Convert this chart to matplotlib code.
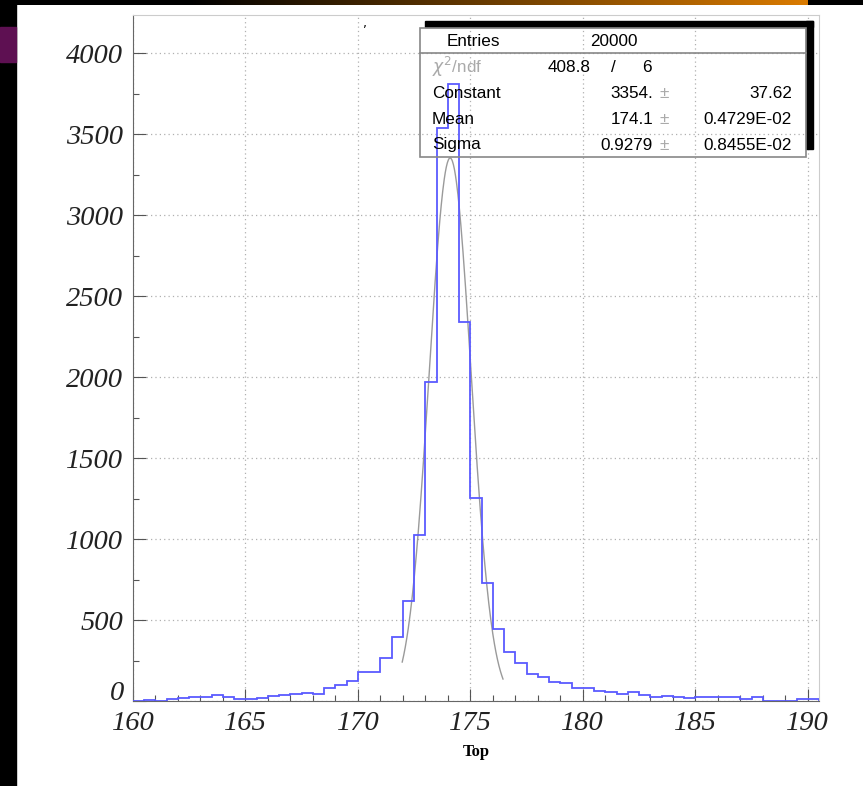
import numpy as np
import matplotlib
matplotlib.use("Agg")
import matplotlib.pyplot as plt
from matplotlib.patches import Rectangle
from matplotlib.lines import Line2D
from matplotlib.ticker import MultipleLocator, FuncFormatter

# histogram of "Top", 61 bins of 0.5 from 160
bin_start = 160.0
bin_width = 0.5
counts = [
    3, 4, 3, 15, 17, 26, 27, 35, 25, 15,
    14, 18, 28, 40, 42, 52, 42, 82, 101, 123,
    178, 178, 268, 393, 617, 1027, 1969, 3541, 3811, 2343,
    1254, 731, 443, 305, 233, 165, 146, 117, 109, 78,
    78, 64, 56, 45, 56, 39, 27, 31, 27, 21,
    27, 27, 25, 25, 14, 27, 2, 2, 2, 14,
    14,
]

# gaussian fit results (stat box)
entries = 20000
chi2, ndf = 408.8, 6
fit_names = ["Constant", "Mean", "Sigma"]
fit_values = ["3354.", "174.1", "0.9279"]
fit_errors = ["37.62", "0.4729E-02", "0.8455E-02"]
fit_const, fit_mean, fit_sigma = 3354.0, 174.1, 0.9279
fit_range = (171.97, 176.45)

W, H = 863, 786
def fx(x):
    return x / W
def fy(y):
    return 1 - y / H

fig = plt.figure(figsize=(W / 100, H / 100), dpi=100)
fig.patch.set_facecolor("white")

# slide background pieces
fig.add_artist(Rectangle((0, 0), fx(16), 1, transform=fig.transFigure, color="black", zorder=0))
fig.add_artist(Rectangle((0, fy(62)), fx(16), fy(27) - fy(62), transform=fig.transFigure,
                         color="#5e1052", zorder=1))
strip = fig.add_axes([0, fy(5), 1, 5 / H])
grad = np.zeros((1, W, 3))
t = np.clip((np.arange(W) - 190) / (800 - 190), 0, 1)
grad[0, :, 0] = t * 0.85
grad[0, :, 1] = t * 0.48
grad[0, :, 2] = 0.0
grad[0, 807:, :] = 0
strip.imshow(grad, aspect="auto")
strip.axis("off")

ax = fig.add_axes([fx(133), fy(701), (819 - 133) / W, (701 - 15) / H])
edges = bin_start + bin_width * np.arange(len(counts) + 1)
ax.stairs(counts, edges, color="#5a5aff", lw=1.3, zorder=3)

xf = np.linspace(fit_range[0], fit_range[1], 200)
yf = fit_const * np.exp(-0.5 * ((xf - fit_mean) / fit_sigma) ** 2)
ax.plot(xf, yf, color="#9a9a9a", lw=1.0, zorder=2)

ax.set_xlim(160, 190.5)
ax.set_ylim(0, 4237)
ax.xaxis.set_major_locator(MultipleLocator(5))
ax.xaxis.set_minor_locator(MultipleLocator(1))
ax.yaxis.set_major_locator(MultipleLocator(500))
ax.yaxis.set_minor_locator(MultipleLocator(250))
# "0" is drawn by hand a bit higher so it does not sit on "160"
ax.yaxis.set_major_formatter(FuncFormatter(lambda v, p: "" if v == 0 else f"{v:.0f}"))
ax.grid(which="major", linestyle=(0, (1, 2.5)), color="#b0b0b0", lw=0.9)
ax.tick_params(which="major", direction="in", length=9, width=0.8, color="#555555")
ax.tick_params(which="minor", direction="in", length=4.5, width=0.8, color="#555555")
ax.tick_params(axis="x", pad=7)
ax.tick_params(axis="y", pad=7)
tick_font = dict(family="Liberation Serif", style="italic", size=20.5, color="#222222")
for lab in ax.get_xticklabels() + ax.get_yticklabels():
    lab.set_family(tick_font["family"])
    lab.set_style(tick_font["style"])
    lab.set_fontsize(tick_font["size"])
    lab.set_color(tick_font["color"])
fig.text(fx(124), fy(693), "0", ha="right", va="center", **tick_font)
for s in ["left", "bottom"]:
    ax.spines[s].set_color("#666666")
for s in ["top", "right"]:
    ax.spines[s].set_color("#cccccc")

fig.text(fx(476), fy(752), "Top", family="Liberation Serif", weight="bold", fontsize=12,
         ha="center", va="center")
fig.text(fx(365), fy(24), ",", fontsize=9, ha="center", va="center")

# stat box with shadow
fig.add_artist(Rectangle((fx(425), fy(27)), fx(813) - fx(425), fy(21) - fy(27),
                         transform=fig.transFigure, color="black", zorder=5))
fig.add_artist(Rectangle((fx(806), fy(149)), fx(813) - fx(806), fy(21) - fy(149),
                         transform=fig.transFigure, color="black", zorder=5))
fig.add_artist(Rectangle((fx(420), fy(157)), fx(806) - fx(420), fy(28) - fy(157),
                         transform=fig.transFigure, fill=False, edgecolor="#888888", lw=1.2, zorder=6))
fig.add_artist(Line2D([fx(420), fx(806)], [fy(53), fy(53)], transform=fig.transFigure,
                      color="#888888", lw=1.2, zorder=6))

box_font = dict(family="Liberation Sans", fontsize=12.3, va="center", zorder=7)
fig.text(fx(473), fy(42), "Entries", ha="center", **box_font)
fig.text(fx(614), fy(42), f"{entries}", ha="center", **box_font)
fig.text(fx(432), fy(67), r"$\chi^2$/ndf", ha="left", color="#aaaaaa", **box_font)
fig.text(fx(591), fy(67), f"{chi2}", ha="right", **box_font)
fig.text(fx(613), fy(67), "/", ha="center", **box_font)
fig.text(fx(647), fy(67), f"{ndf}", ha="center", **box_font)
for i, (n, v, e) in enumerate(zip(fit_names, fit_values, fit_errors)):
    yy = 93 + 26 * i
    fig.text(fx(432), fy(yy), n, ha="left", **box_font)
    fig.text(fx(653), fy(yy), v, ha="right", **box_font)
    fig.text(fx(664), fy(yy), "\u00b1", ha="center", color="#aaaaaa", **box_font)
    fig.text(fx(792), fy(yy), e, ha="right", **box_font)

fig.savefig("out.png", dpi=100)
